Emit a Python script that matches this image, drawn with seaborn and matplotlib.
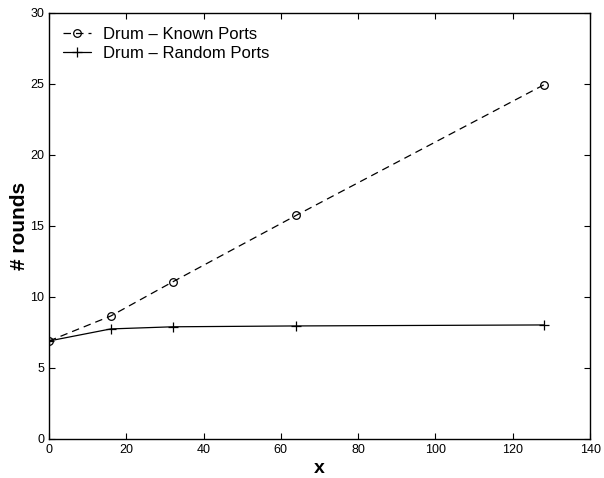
import matplotlib
matplotlib.use("Agg")
import matplotlib.pyplot as plt
import seaborn as sns
import pandas as pd

x_vals = [0, 16, 32, 64, 128]
known_ports = [6.9, 8.66, 11.06, 15.75, 24.93]
random_ports = [6.9, 7.75, 7.9, 7.96, 8.03]
series_names = ["Drum \u2013 Known Ports", "Drum \u2013 Random Ports"]

sns.set_style("ticks")
plt.rcParams['font.family'] = ['Liberation Sans', 'DejaVu Sans']
plt.rcParams.update({
    "text.color": "black", "axes.labelcolor": "black", "axes.edgecolor": "black",
    "xtick.color": "black", "ytick.color": "black",
})

df_known = pd.DataFrame({"x": x_vals, "rounds": known_ports})
df_random = pd.DataFrame({"x": x_vals, "rounds": random_ports})

fig = plt.figure(figsize=(6.04, 4.78), dpi=100)
ax = fig.add_axes([0.081, 0.0816, 0.896, 0.8914])

sns.lineplot(data=df_known, x="x", y="rounds", color="black", linestyle=(0, (6, 4)),
             marker="o", markersize=5.5, linewidth=0.9, markerfacecolor="none",
             markeredgecolor="black", markeredgewidth=0.9,
             label=series_names[0], ax=ax)
sns.lineplot(data=df_random, x="x", y="rounds", color="black", linestyle="-",
             marker="+", markersize=7, linewidth=0.9,
             markeredgecolor="black", markeredgewidth=0.9,
             label=series_names[1], ax=ax)

ax.set_xlim(0, 140)
ax.set_ylim(0, 30)
ax.set_xticks(range(0, 141, 20))
ax.set_yticks(range(0, 31, 5))
ax.tick_params(direction="in", top=True, right=True, labelsize=9, length=4, width=0.8,
               colors="black")
for s in ax.spines.values():
    s.set_visible(True)
    s.set_linewidth(1.0)
    s.set_color("black")
ax.set_xlabel("x", fontsize=14, fontweight="bold", labelpad=3, color="black")
ax.set_ylabel("# rounds", fontsize=15, fontweight="bold", labelpad=1, color="black")

leg = ax.legend(loc="upper left", frameon=False, fontsize=12, handlelength=1.7,
                handletextpad=0.7, borderaxespad=0.45, labelspacing=0.25)
for t in leg.get_texts():
    t.set_color("black")

fig.savefig("out.png", dpi=100)
